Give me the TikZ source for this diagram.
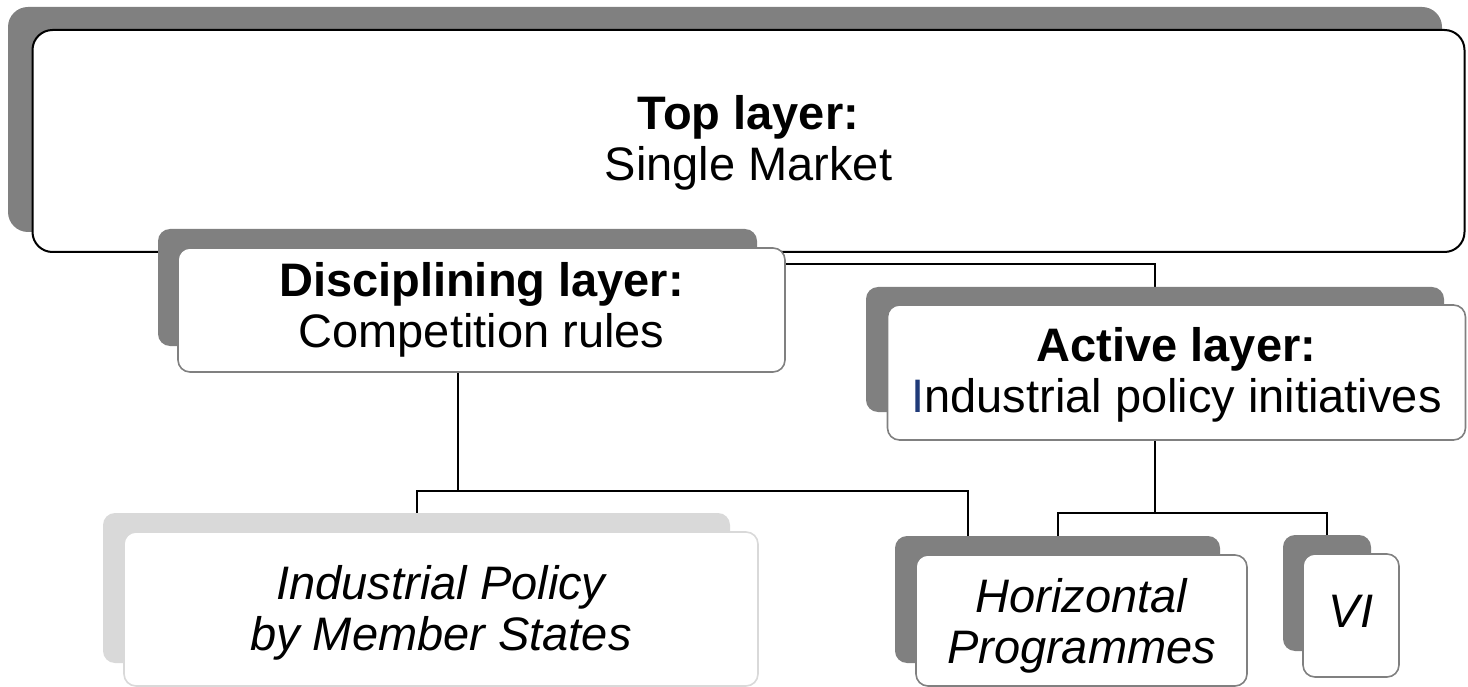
\documentclass[tikz,border=0pt]{standalone}
\usepackage{fontspec}
\setmainfont{Liberation Sans}
\usetikzlibrary{backgrounds}
\definecolor{shade}{HTML}{808080}
\definecolor{lightshade}{HTML}{D9D9D9}
\definecolor{navy}{HTML}{1F3A78}
\begin{document}
\begin{tikzpicture}[x=1pt,y=-1pt,
  shadowbox/.style={fill=shade, draw=none, rounded corners=12pt, inner sep=0pt},
  lightshadow/.style={shadowbox, fill=lightshade},
  facebox/.style={fill=white, draw=shade, line width=1.6pt, rounded corners=12pt,
    inner sep=0pt, align=center, font=\fontsize{47}{51}\selectfont},
  lightface/.style={facebox, draw=lightshade},
  topface/.style={facebox, draw=black, line width=2pt, rounded corners=20pt},
  conn/.style={draw=black, line width=2pt}]
\useasboundingbox (0,0) rectangle (1468,687);
% top layer
\node[shadowbox, rounded corners=20pt, minimum width=1434pt, minimum height=225pt] (topS) at (725,119.5) {};
\node[topface, minimum width=1432pt, minimum height=222pt] (top) at (748.5,141) {\rule{0pt}{38pt}\textbf{Top layer:}\\Single Market};
% disciplining layer
\node[shadowbox, minimum width=599pt, minimum height=117pt] (discS) at (457.5,287.5) {};
\node[facebox, minimum width=607pt, minimum height=124pt] (disc) at (481.5,310) {\textbf{Disciplining layer:}\\Competition rules};
% active layer
\node[shadowbox, minimum width=578pt, minimum height=125pt] (actS) at (1155,349.5) {};
\node[facebox, minimum width=578pt, minimum height=135pt] (act) at (1176.5,372.5) {\rule{0pt}{38pt}\textbf{Active layer:}\\{\color{navy}I}ndustrial policy initiatives};
% industrial policy by member states
\node[lightshadow, minimum width=627pt, minimum height=150pt] (ipS) at (416.5,588) {};
\node[lightface, minimum width=634pt, minimum height=154pt] (ip) at (441,609) {\rule{0pt}{42pt}\itshape Industrial Policy\\\itshape by Member States};
% horizontal programmes
\node[shadowbox, minimum width=325pt, minimum height=127pt] (hzS) at (1057.5,599.5) {};
\node[facebox, minimum width=331pt, minimum height=131pt] (hz) at (1081.5,620.5) {\rule{0pt}{44pt}\itshape Horizontal\\\itshape Programmes};
% VI
\node[shadowbox, minimum width=88pt, minimum height=116pt] (viS) at (1327,593) {};
\node[facebox, minimum width=96pt, minimum height=123pt] (vi) at (1351,615.5) {\itshape VI\rule[-8pt]{0pt}{8pt}};
% connectors
\coordinate (j1) at (1155,264);
\coordinate (j2) at (457.5,491);
\coordinate (hzin) at (968,536);
\coordinate (j3) at (1155,513);
\begin{pgfonlayer}{background}
\draw[conn] (topS.south) |- (j1) -- (actS.north);
\draw[conn] (discS.south) -- (j2) -| (ipS.north);
\draw[conn] (j2) -| (hzin);
\draw[conn] (actS.south) -- (j3) -| (hzS.north);
\draw[conn] (j3) -| (viS.north);
\end{pgfonlayer}
\end{tikzpicture}
\end{document}
